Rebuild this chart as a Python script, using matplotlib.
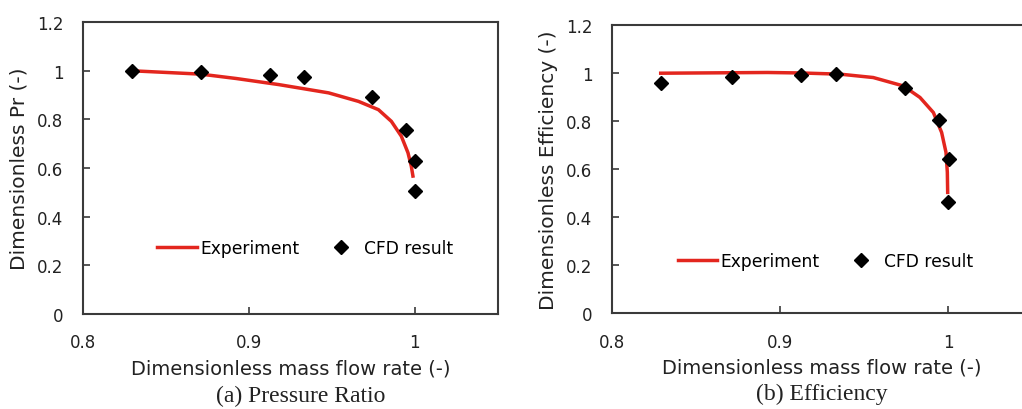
import numpy as np
import matplotlib
matplotlib.use('Agg')
import matplotlib.pyplot as plt
from matplotlib.ticker import FuncFormatter

# Pressure ratio: experiment curve and CFD points
pr_exp_x = [0.829, 0.871, 0.8924, 0.918, 0.948, 0.966, 0.978, 0.9858, 0.9918, 0.9958, 0.9978, 0.9988]
pr_exp_y = [1.000, 0.986, 0.968, 0.943, 0.909, 0.874, 0.840, 0.792, 0.731, 0.663, 0.608, 0.567]
pr_cfd_x = [0.8294, 0.8712, 0.9124, 0.9334, 0.974, 0.9946, 1.0002, 0.9998]
pr_cfd_y = [1.000, 0.996, 0.984, 0.975, 0.891, 0.757, 0.630, 0.507]

# Efficiency: experiment curve and CFD points
eff_exp_x = [0.829, 0.8714, 0.8925, 0.9125, 0.9359, 0.9555, 0.9734, 0.9833, 0.9913, 0.9962, 0.9988, 0.9996, 0.9998]
eff_exp_y = [1.000, 1.002, 1.003, 1.001, 0.996, 0.982, 0.947, 0.899, 0.836, 0.753, 0.670, 0.587, 0.503]
eff_cfd_x = [0.8294, 0.8714, 0.9125, 0.9335, 0.9746, 0.9948, 1.0004, 1.0]
eff_cfd_y = [0.961, 0.986, 0.994, 0.997, 0.940, 0.806, 0.642, 0.462]

plt.rcParams['font.family'] = 'DejaVu Sans'

fig = plt.figure(figsize=(10.22, 4.10), dpi=100)
ax1 = fig.add_axes([0.0812, 0.2317, 0.406, 0.712])
ax2 = fig.add_axes([0.5988, 0.234, 0.411, 0.702])

red = '#e3261e'
spine = '#3a3a3a'
txt = '#222222'


def style_axes(ax, ylabel, caption, cap_x, leg_anchor):
    ax.set_xlim(0.8, 1.05)
    ax.set_ylim(0, 1.2)
    ax.set_xticks([0.8, 0.9, 1.0])
    ax.set_yticks(np.arange(0, 1.21, 0.2))
    fmt = FuncFormatter(lambda v, p: ('%.1f' % v).rstrip('0').rstrip('.') if v else '0')
    ax.xaxis.set_major_formatter(fmt)
    ax.yaxis.set_major_formatter(fmt)
    ax.tick_params(axis='x', direction='in', length=5, width=1.2, color=spine,
                   labelsize=12, pad=14, labelcolor=txt)
    ax.tick_params(axis='y', direction='in', length=5, width=1.2, color=spine,
                   labelsize=12, pad=14, labelcolor=txt)
    for s in ax.spines.values():
        s.set_color(spine)
        s.set_linewidth(1.5)
    ax.set_ylabel(ylabel, fontsize=14.5, color=txt, labelpad=6)
    ax.set_xlabel('Dimensionless mass flow rate (-)', fontsize=14, color=txt, labelpad=5)
    ax.text(cap_x, -0.28, caption, transform=ax.transAxes, ha='center', va='center',
            fontsize=17, family='Liberation Serif', color=txt)
    ax.legend(loc='center left', bbox_to_anchor=leg_anchor, ncol=2, frameon=False,
              fontsize=12.3, handlelength=2.3, handletextpad=0.2, columnspacing=1.3,
              borderaxespad=0)


ax1.plot(pr_exp_x, pr_exp_y, color=red, lw=2.5, label='Experiment')
ax1.plot(pr_cfd_x, pr_cfd_y, 'D', color='black', ms=7, label='CFD result', linestyle='none')
style_axes(ax1, 'Dimensionless Pr (-)', '(a) Pressure Ratio', 0.525, (0.163, 0.226))

ax2.plot(eff_exp_x, eff_exp_y, color=red, lw=2.5, label='Experiment')
ax2.plot(eff_cfd_x, eff_cfd_y, 'D', color='black', ms=7, label='CFD result', linestyle='none')
style_axes(ax2, 'Dimensionless Efficiency (-)', '(b) Efficiency', 0.5, (0.14, 0.18))

fig.savefig('out.png', dpi=100)
